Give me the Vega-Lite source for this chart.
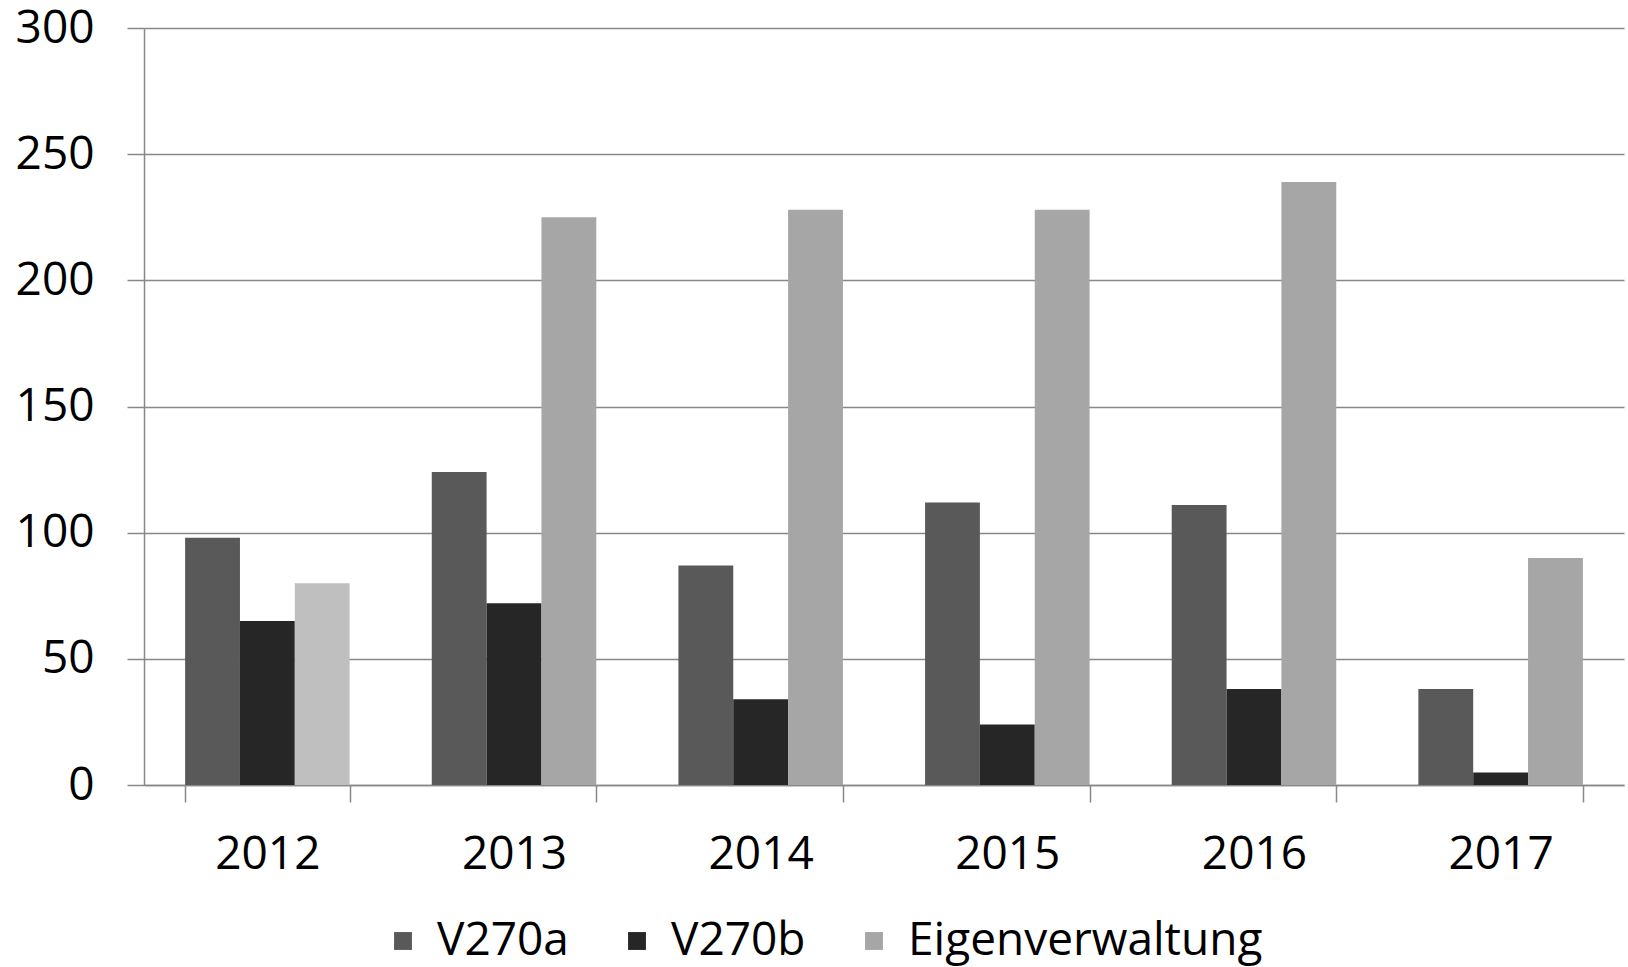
{
  "$schema": "https://vega.github.io/schema/vega-lite/v6.json",
  "width": 1480,
  "height": 757,
  "autosize": {"type": "none"},
  "padding": {"left": 144, "top": 28, "right": 4, "bottom": 182},
  "background": "white",
  "config": {
    "view": {"stroke": null},
    "font": "Open Sans",
    "axis": {"labelFont": "Open Sans", "labelFontSize": 46, "labelColor": "black", "domainColor": "#888888", "tickColor": "#888888", "gridColor": "#888888", "domainWidth": 1.5, "tickWidth": 1.5, "gridWidth": 1.5, "tickSize": 17, "title": null},
    "legend": {"labelFont": "Open Sans", "labelFontSize": 46, "labelColor": "black", "labelLimit": 0}
  },
  "data": {
    "values": [
      {"year": "2012", "series": "V270a", "value": 98},
      {"year": "2012", "series": "V270b", "value": 65},
      {"year": "2012", "series": "Eigenverwaltung", "value": 80},
      {"year": "2013", "series": "V270a", "value": 124},
      {"year": "2013", "series": "V270b", "value": 72},
      {"year": "2013", "series": "Eigenverwaltung", "value": 225},
      {"year": "2014", "series": "V270a", "value": 87},
      {"year": "2014", "series": "V270b", "value": 34},
      {"year": "2014", "series": "Eigenverwaltung", "value": 228},
      {"year": "2015", "series": "V270a", "value": 112},
      {"year": "2015", "series": "V270b", "value": 24},
      {"year": "2015", "series": "Eigenverwaltung", "value": 228},
      {"year": "2016", "series": "V270a", "value": 111},
      {"year": "2016", "series": "V270b", "value": 38},
      {"year": "2016", "series": "Eigenverwaltung", "value": 239},
      {"year": "2017", "series": "V270a", "value": 38},
      {"year": "2017", "series": "V270b", "value": 5},
      {"year": "2017", "series": "Eigenverwaltung", "value": 90}
    ]
  },
  "mark": {"type": "bar"},
  "encoding": {
    "x": {
      "field": "year", "type": "nominal",
      "scale": {"paddingInner": 0.333, "paddingOuter": 0.1667},
      "axis": {"labelAngle": 0, "labelPadding": 30, "tickBand": "extent", "grid": false, "domainColor": "#888888"}
    },
    "xOffset": {
      "field": "series", "type": "nominal",
      "sort": ["V270a", "V270b", "Eigenverwaltung"],
      "scale": {"paddingInner": 0, "paddingOuter": 0}
    },
    "y": {
      "field": "value", "type": "quantitative",
      "scale": {"domain": [0, 300], "nice": false},
      "axis": {"values": [0, 50, 100, 150, 200, 250, 300], "grid": true, "labelPadding": 33}
    },
    "color": {
      "condition": {"test": "datum.year == '2012' && datum.series == 'Eigenverwaltung'", "value": "#bfbfbf"},
      "field": "series", "type": "nominal",
      "sort": ["V270a", "V270b", "Eigenverwaltung"],
      "scale": {"domain": ["V270a", "V270b", "Eigenverwaltung"], "range": ["#595959", "#262626", "#a6a6a6"]},
      "legend": {"title": null, "orient": "none", "direction": "horizontal", "legendX": 236, "legendY": 890, "symbolType": "square", "symbolSize": 320, "symbolStrokeWidth": 0, "labelOffset": 11, "columnPadding": 45}
    }
  }
}
